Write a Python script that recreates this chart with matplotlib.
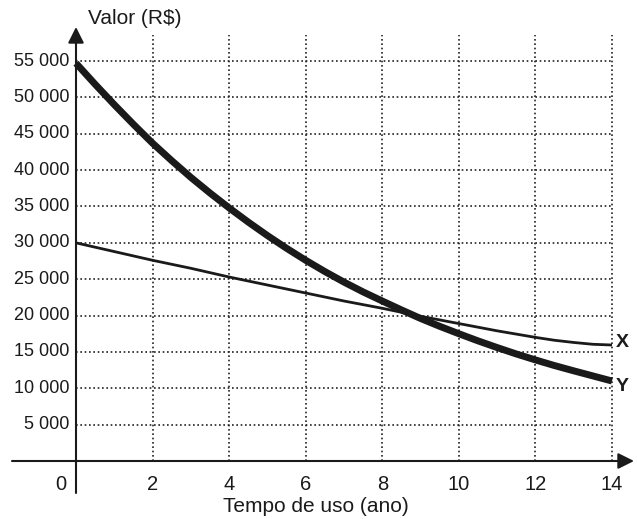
import matplotlib.pyplot as plt

plt.rcParams['font.family'] = ['Liberation Sans', 'DejaVu Sans']

# tempo de uso (ano)
anos = [0, 0.5, 1, 1.5, 2, 2.5, 3, 3.5, 4, 4.5, 5, 5.5, 6, 6.5, 7, 7.5,
        8, 8.5, 9, 9.5, 10, 10.5, 11, 11.5, 12, 12.5, 13, 13.5, 14]
# valor (R$) dos carros X e Y
valor_x = [30000, 29400, 28800, 28200, 27600, 27050, 26500, 25900,
           25300, 24750, 24200, 23650, 23100, 22550, 22000, 21500,
           21000, 20450, 19900, 19400, 18900, 18400, 17900, 17450,
           17000, 16600, 16300, 16050, 15950]
valor_y = [54700, 51800, 49000, 46300, 43700, 41300, 39000, 36850,
           34800, 32850, 31000, 29250, 27600, 26050, 24600, 23250,
           22000, 20780, 19600, 18520, 17500, 16520, 15600, 14720,
           13900, 13120, 12400, 11700, 11000]

x_ticks = [2, 4, 6, 8, 10, 12, 14]
y_ticks = [5000, 10000, 15000, 20000, 25000, 30000, 35000,
           40000, 45000, 50000, 55000]
y_labels = ['5 000', '10 000', '15 000', '20 000', '25 000', '30 000',
            '35 000', '40 000', '45 000', '50 000', '55 000']

INK = '#1a1a1a'


def main():
    fig = plt.figure(figsize=(6.37, 5.19), dpi=100)
    ax = fig.add_axes([0, 0, 1, 1])
    px = 14 / 536.0
    py = 5000 / 36.36
    ax.set_xlim(-76 * px, (637 - 76) * px)
    ax.set_ylim(-(519 - 461) * py, 461 * py)
    ax.axis('off')

    grid_style = dict(color='#222222', lw=1.2, linestyle=(0, (1, 1.6)),
                      zorder=1)
    top = (461 - 35) * py
    for x in x_ticks:
        ax.plot([x, x], [0, top], **grid_style)
        ax.text(x, -(484 - 461) * py, str(x), ha='center', va='center',
                fontsize=14.5, color=INK)
    for y, lab in zip(y_ticks, y_labels):
        ax.plot([0, 14], [y, y], **grid_style)
        ax.text(-7 * px, y, lab, ha='right', va='center',
                fontsize=13, color=INK)
    ax.text(-10 * px, -(484 - 461) * py, '0', ha='right', va='center',
            fontsize=14.5, color=INK)

    # eixos com setas
    ax.annotate('', xy=(0, (461 - 27) * py), xytext=(0, -(493 - 461) * py),
                arrowprops=dict(arrowstyle='-|>', color=INK, lw=1.5,
                                mutation_scale=24, shrinkA=0, shrinkB=0))
    ax.annotate('', xy=((634 - 76) * px, 0), xytext=(-64 * px, 0),
                arrowprops=dict(arrowstyle='-|>', color=INK, lw=1.5,
                                mutation_scale=24, shrinkA=0, shrinkB=0))

    ax.plot(anos, valor_y, color=INK, lw=5.0, solid_capstyle='butt',
            solid_joinstyle='round', zorder=3)
    ax.plot(anos, valor_x, color=INK, lw=2.0, solid_capstyle='butt',
            solid_joinstyle='round', zorder=3)

    ax.text(14 + 4 * px, valor_x[-1] + 300, 'X', fontsize=14,
            fontweight='bold', ha='left', va='center', color=INK)
    ax.text(14 + 4 * px, valor_y[-1] - 700, 'Y', fontsize=14,
            fontweight='bold', ha='left', va='center', color=INK)

    ax.text(12 * px, (461 - 19) * py, 'Valor (R$)', fontsize=15,
            ha='left', va='center', color=INK)
    ax.text(316 * px - 76 * px, -(506 - 461) * py, 'Tempo de uso (ano)',
            fontsize=15, ha='center', va='center', color=INK)

    fig.savefig('out.png', dpi=100)


if __name__ == '__main__':
    main()
